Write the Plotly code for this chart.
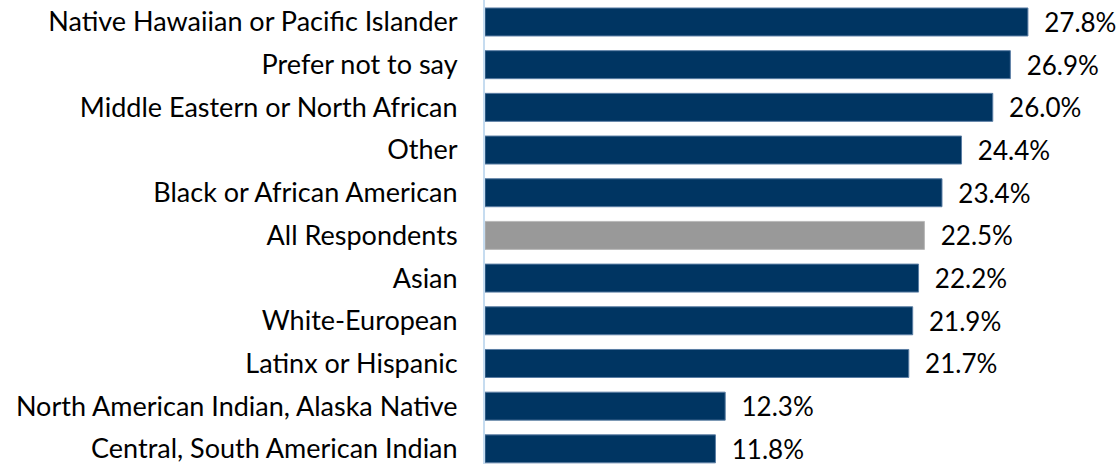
import plotly.graph_objects as go

categories = [
    "Native Hawaiian or Pacific Islander",
    "Prefer not to say",
    "Middle Eastern or North African",
    "Other",
    "Black or African American",
    "All Respondents",
    "Asian",
    "White-European",
    "Latinx or Hispanic",
    "North American Indian, Alaska Native",
    "Central, South American Indian",
]
values = [27.8, 26.9, 26.0, 24.4, 23.4, 22.5, 22.2, 21.9, 21.7, 12.3, 11.8]
highlight = "All Respondents"

NAVY = "#003562"
GRAY = "#999999"
FONT = "Lato, Carlito, Calibri, sans-serif"
colors = [GRAY if c == highlight else NAVY for c in categories]
line_colors = ["#b8b8b8" if c == highlight else "#5b7ea4" for c in categories]

fig = go.Figure(
    go.Bar(
        x=values,
        y=categories,
        orientation="h",
        marker=dict(color=colors, line=dict(color=line_colors, width=1)),
        text=[f"\u00a0\u00a0{v:.1f}%" for v in values],
        textposition="outside",
        constraintext="none",
        cliponaxis=False,
        textfont=dict(family=FONT, size=26, color="#000000"),
        hoverinfo="skip",
    )
)

fig.update_layout(
    width=1116,
    height=464,
    margin=dict(l=485, r=0, t=0, b=0),
    paper_bgcolor="white",
    plot_bgcolor="white",
    bargap=0.344,
    showlegend=False,
    font=dict(family=FONT, size=26, color="#000000"),
)
fig.update_xaxes(range=[0, 32.31], visible=False, showgrid=False, zeroline=False)
fig.update_yaxes(
    type="category",
    categoryorder="array",
    categoryarray=categories,
    range=[10.355, -0.515],
    showgrid=False,
    zeroline=False,
    showline=True,
    linecolor="#c6dcf0",
    linewidth=2,
    ticks="",
    ticklabelstandoff=20,
    tickfont=dict(family=FONT, size=27, color="#000000"),
)

fig.write_html(
    "out.html",
    config={"displayModeBar": False, "staticPlot": True},
    post_script="document.body.style.margin='0';document.body.style.overflow='hidden';",
)
